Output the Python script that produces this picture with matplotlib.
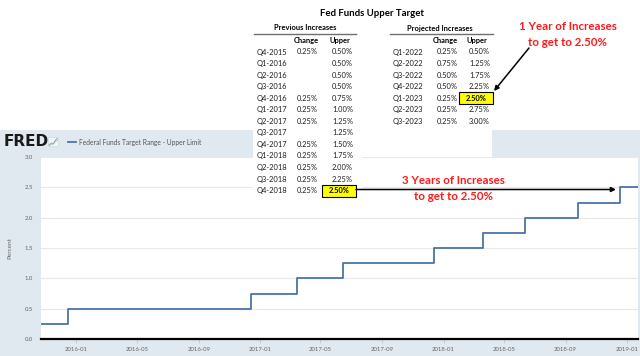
import matplotlib
matplotlib.use("Agg")
import matplotlib.pyplot as plt
import pandas as pd
from matplotlib.patches import Rectangle

# ---------------- data ----------------
change_dates = ["2015-10-23", "2015-12-16", "2016-12-14", "2017-03-15", "2017-06-14",
                "2017-12-13", "2018-03-21", "2018-06-13", "2018-09-26", "2018-12-19",
                "2019-01-23"]
upper_limit = [0.25, 0.50, 0.75, 1.00, 1.25, 1.50, 1.75, 2.00, 2.25, 2.50, 2.50]
x_tick_labels = ["2016-01", "2016-05", "2016-09", "2017-01", "2017-05", "2017-09",
                 "2018-01", "2018-05", "2018-09", "2019-01"]
y_ticks = [0.0, 0.5, 1.0, 1.5, 2.0, 2.5, 3.0]

prev_quarters = ["Q4-2015", "Q1-2016", "Q2-2016", "Q3-2016", "Q4-2016", "Q1-2017", "Q2-2017",
                 "Q3-2017", "Q4-2017", "Q1-2018", "Q2-2018", "Q3-2018", "Q4-2018"]
prev_change = ["0.25%", "", "", "", "0.25%", "0.25%", "0.25%", "", "0.25%", "0.25%",
               "0.25%", "0.25%", "0.25%"]
prev_upper = ["0.50%", "0.50%", "0.50%", "0.50%", "0.75%", "1.00%", "1.25%", "1.25%",
              "1.50%", "1.75%", "2.00%", "2.25%", "2.50%"]
proj_quarters = ["Q1-2022", "Q2-2022", "Q3-2022", "Q4-2022", "Q1-2023", "Q2-2023", "Q3-2023"]
proj_change = ["0.25%", "0.75%", "0.50%", "0.50%", "0.25%", "0.25%", "0.25%"]
proj_upper = ["0.50%", "1.25%", "1.75%", "2.25%", "2.50%", "2.75%", "3.00%"]

series_name = "Federal Funds Target Range - Upper Limit"
title = "Fed Funds Upper Target"

# ---------------- figure ----------------
W, H = 640, 356
fig = plt.figure(figsize=(6.4, 3.56), dpi=100)
fig.patch.set_facecolor("white")
FONT = ["Lato", "DejaVu Sans"]
FRED_BG = "#e1e9f0"
LINE = "#4a74a8"
GRAY = "#666666"
TXT = "#1e1e1e"

# background layer (pixel coordinates)
bg = fig.add_axes([0, 0, 1, 1], zorder=0)
bg.set_xlim(0, W); bg.set_ylim(H, 0); bg.axis("off")
bg.add_patch(Rectangle((0, 130), W, H - 130, color=FRED_BG, lw=0))

# main chart
L, R, T, B = 41, 638, 157, 339
ax = fig.add_axes([L / W, (H - B) / H, (R - L) / W, (B - T) / H], zorder=1)
ax.set_facecolor("white")
dates = pd.to_datetime(change_dates)
ax.step(dates, upper_limit, where="post", color=LINE, lw=1.3, zorder=3)
ax.set_xlim(dates[0], dates[-1])
ax.set_ylim(0, 3.0)
ax.set_yticks(y_ticks)
ax.set_yticklabels([f"{v:.1f}" for v in y_ticks], family=FONT, fontsize=4.3, color=GRAY)
xt = pd.to_datetime(x_tick_labels)
ax.set_xticks(xt)
ax.set_xticklabels(x_tick_labels, family=FONT, fontsize=4.3, color=GRAY)
ax.grid(axis="y", color="#e8e8e8", lw=0.8)
ax.set_axisbelow(True)
for s in ["top", "right", "left"]:
    ax.spines[s].set_visible(False)
ax.spines["bottom"].set_color("black")
ax.spines["bottom"].set_linewidth(1.6)
ax.spines["bottom"].set_zorder(4)
ax.tick_params(axis="y", length=0, pad=6)
ax.tick_params(axis="x", length=3, color="#c8c8c8", width=0.6, pad=3)
ax.set_ylabel("Percent", family=FONT, fontsize=4.6, color=GRAY)
ax.yaxis.set_label_coords((12 - L) / (R - L), 0.5)

# overlay layer (pixel coordinates)
ov = fig.add_axes([0, 0, 1, 1], zorder=2)
ov.set_xlim(0, W); ov.set_ylim(H, 0); ov.axis("off")
ov.patch.set_alpha(0)

# table white box
ov.add_patch(Rectangle((253, 0), 492 - 253, 157, color="white", lw=0, zorder=1))
ov.add_patch(Rectangle((253, 157), 362 - 253, 43, color="white", lw=0, zorder=1))

# FRED header
ov.text(4, 142, "FRED", family=["DejaVu Sans"], fontweight="bold", fontsize=11,
        color="#1a1a1a", va="center", ha="left", zorder=5)
ov.add_patch(Rectangle((48, 137), 10, 9, facecolor="#f4f7fa", edgecolor="#c9d4de", lw=0.4, zorder=5))
ov.plot([49, 51.5, 53.5, 55.5, 57.5], [145, 143, 144, 140, 138.5], color="#7aa9d6", lw=0.7, zorder=6)
ov.plot([49, 52, 54, 57.5], [145.5, 144.5, 142.5, 140.5], color="#9cc47a", lw=0.5, zorder=6)
ov.plot([68, 76], [142, 142], color=LINE, lw=1.3, zorder=5)
ov.text(79, 142.3, series_name, family=FONT, fontsize=4.8, color="#555555",
        va="center", ha="left", zorder=5)

# title
ov.text(372, 13, title, family=FONT, fontweight="bold", fontsize=6.9, color="black",
        ha="center", va="center", zorder=5)

TS = 5.4
row0, dy = 52, 11.55


def table(x_date, x_chg, x_up, head_cx, head_text, ul, chg_cx, up_cx, quarters, chg, up, hl):
    ov.text(head_cx, 28, head_text, family=FONT, fontweight="bold", fontsize=TS,
            ha="center", va="center", zorder=5)
    ov.plot(ul, [34, 34], color="#6f6f6f", lw=1.0, zorder=5)
    ov.text(chg_cx, 40, "Change", family=FONT, fontweight="bold", fontsize=TS,
            ha="center", va="center", zorder=5)
    ov.text(up_cx, 40, "Upper", family=FONT, fontweight="bold", fontsize=TS,
            ha="center", va="center", zorder=5)
    for i, (q, c, u) in enumerate(zip(quarters, chg, up)):
        y = row0 + i * dy
        ov.text(x_date, y, q, family=FONT, fontsize=TS, color=TXT,
                ha="left", va="center", zorder=5)
        ov.text(x_chg, y, c, family=FONT, fontsize=TS, color=TXT,
                ha="right", va="center", zorder=5)
        if i == hl:
            ov.add_patch(Rectangle((x_up - 31, y - 6), 34, 12, facecolor="#ffff00",
                                   edgecolor="black", lw=0.8, zorder=4))
            ov.text(x_up - 14, y, u, family=FONT, fontsize=TS, fontweight="bold",
                    color="black", ha="center", va="center", zorder=5)
        else:
            ov.text(x_up, y, u, family=FONT, fontsize=TS, color=TXT,
                    ha="right", va="center", zorder=5)
    return


table(257, 318, 353, 305, "Previous Increases", [254, 356], 306, 340,
      prev_quarters, prev_change, prev_upper, 12)
table(393, 458, 490, 440, "Projected Increases", [390, 493], 445, 477,
      proj_quarters, proj_change, proj_upper, 4)

# annotations
RED = "#ff1a1a"
ov.text(568, 27, "1 Year of Increases", family=FONT, fontsize=8.3, color=RED,
        fontweight="bold", ha="center", va="center", zorder=5)
ov.text(568, 43, "to get to 2.50%", family=FONT, fontsize=8.3, color=RED,
        fontweight="bold", ha="center", va="center", zorder=5)
ov.text(453, 181, "3 Years of Increases", family=FONT, fontsize=8.3, color=RED,
        fontweight="bold", ha="center", va="center", zorder=5)
ov.text(453, 197, "to get to 2.50%", family=FONT, fontsize=8.3, color=RED,
        fontweight="bold", ha="center", va="center", zorder=5)
ov.annotate("", xy=(494, 91), xytext=(529, 48),
            arrowprops=dict(arrowstyle="-|>", color="black", lw=1.1, mutation_scale=7,
                            shrinkA=0, shrinkB=0), zorder=6)
ov.annotate("", xy=(616, 189.5), xytext=(356, 189.5),
            arrowprops=dict(arrowstyle="-|>", color="black", lw=1.1, mutation_scale=7,
                            shrinkA=0, shrinkB=0), zorder=6)

fig.savefig("out.png", dpi=100, facecolor="white")
